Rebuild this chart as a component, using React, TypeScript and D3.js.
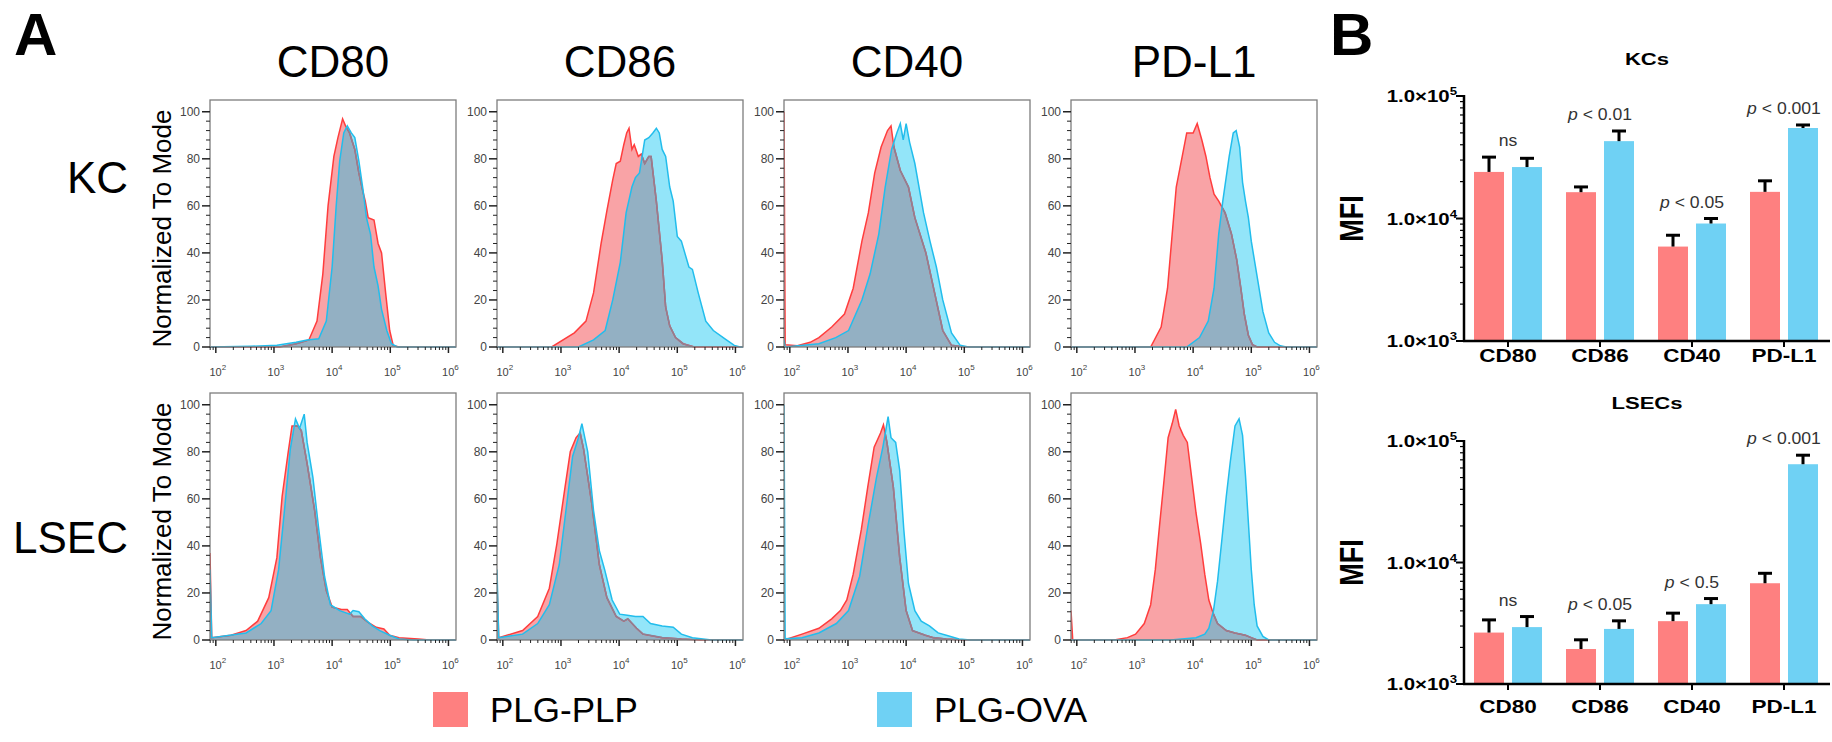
import React from "react"
import * as d3 from "d3"

const FONT = "'Liberation Sans', Arial, Helvetica, sans-serif"
const W = 1832
const H = 742

const MARKERS = ["CD80", "CD86", "CD40", "PD-L1"]
const CELLS = ["KC", "LSEC"]
const GROUPS = ["PLG-PLP", "PLG-OVA"]
const DECADES = [2, 3, 4, 5, 6]
const PCT_TICKS = [0, 20, 40, 60, 80, 100]

// histogram traces, [log10 intensity, % of mode]
const KC_CD80_PLP = [[1.9,0],[3.1,0],[3.38,1.4],[3.6,3],[3.74,11],[3.84,31],[3.93,60],[4.03,81],[4.1,89],[4.18,97],[4.23,94],[4.3,91],[4.39,84],[4.46,74],[4.53,66],[4.57,62],[4.62,55],[4.72,54],[4.79,44],[4.85,40],[4.92,23],[4.99,7],[5.05,0.7],[5.15,0],[6.13,0]]
const KC_CD80_OVA = [[1.9,0],[2.6,0.3],[3.05,0.7],[3.38,2],[3.57,3],[3.77,3.5],[3.9,11],[4.0,34],[4.07,60],[4.13,79],[4.2,91],[4.26,94],[4.33,91],[4.39,89],[4.46,79],[4.53,67],[4.59,55],[4.66,48],[4.72,34],[4.79,26],[4.85,16],[4.94,7],[5.02,1.4],[5.12,0],[6.13,0]]
const KC_CD86_PLP = [[1.9,0],[2.84,0],[3.23,6],[3.43,11],[3.56,23],[3.69,44],[3.79,58],[3.89,71],[3.95,78],[4.02,79],[4.08,86],[4.13,91],[4.17,93],[4.22,84],[4.26,86],[4.33,81],[4.38,82],[4.44,78],[4.51,81],[4.55,81],[4.64,62],[4.74,37],[4.8,17],[4.87,9],[4.97,4],[5.1,1.4],[5.29,0],[6.13,0]]
const KC_CD86_OVA = [[1.9,0],[3.3,0],[3.56,3],[3.76,7],[3.89,20],[4.02,36],[4.12,57],[4.22,68],[4.28,72],[4.35,74],[4.44,88],[4.51,89],[4.58,91],[4.64,93],[4.69,91],[4.74,84],[4.8,81],[4.87,68],[4.93,62],[5.0,47],[5.07,45],[5.2,34],[5.26,33],[5.36,23],[5.49,11],[5.62,7],[5.82,3.5],[5.98,0.7],[6.08,0],[6.13,0]]
const KC_CD40_PLP = [[1.9,100],[1.92,1],[2.13,0.5],[2.35,2],[2.5,4],[2.72,8.5],[2.94,14],[3.09,25],[3.24,45],[3.35,57],[3.46,74],[3.57,85],[3.68,92],[3.74,94],[3.79,85],[3.9,75],[4.04,68],[4.15,55],[4.34,40],[4.49,23],[4.63,7],[4.78,0.7],[5.0,0],[6.13,0]]
const KC_CD40_OVA = [[1.9,3],[1.92,0],[2.5,1.4],[2.79,4],[3.01,7],[3.24,20],[3.38,31],[3.53,48],[3.64,68],[3.75,84],[3.84,91],[3.9,95],[3.95,88],[4.0,95],[4.06,87],[4.15,78],[4.3,57],[4.41,45],[4.52,34],[4.63,20],[4.78,6],[4.93,0.7],[5.07,0],[6.13,0]]
const KC_PDL1_PLP = [[1.9,0],[3.27,0],[3.45,8.5],[3.56,25],[3.64,48],[3.71,68],[3.82,82],[3.89,91],[4.0,91],[4.07,95],[4.15,88],[4.22,81],[4.29,72],[4.36,65],[4.44,62],[4.55,57],[4.66,48],[4.75,37],[4.82,25],[4.88,14],[4.95,5],[5.02,1],[5.1,0],[6.13,0]]
const KC_PDL1_OVA = [[1.9,0],[3.89,0],[4.11,4],[4.26,11],[4.36,25],[4.44,48],[4.51,62],[4.62,81],[4.69,91],[4.74,92],[4.8,85],[4.85,70],[4.9,62],[4.95,55],[5.0,45],[5.1,30],[5.2,15],[5.3,6],[5.4,2],[5.5,0.5],[5.6,0],[6.13,0]]

const LSEC_CD80_PLP = [[1.9,37],[1.93,1],[2.26,2],[2.52,4],[2.72,8],[2.91,18],[3.05,35],[3.14,61],[3.24,79],[3.31,91],[3.41,91],[3.47,89],[3.57,75],[3.7,55],[3.8,35],[3.9,21],[4.0,14],[4.16,13],[4.26,13],[4.36,10],[4.49,10],[4.62,7.5],[4.76,5.4],[4.89,4.7],[4.99,2],[5.15,1],[5.48,0.4],[5.68,0],[6.13,0]]
const LSEC_CD80_OVA = [[1.9,30],[1.93,1],[2.52,3],[2.78,7],[2.95,12.5],[3.08,30],[3.18,55],[3.28,81],[3.37,94],[3.44,90],[3.52,96],[3.57,84],[3.67,69],[3.77,47],[3.87,27],[3.97,15],[4.13,12.5],[4.3,11],[4.36,12.5],[4.46,12],[4.56,9],[4.69,6],[4.82,4],[4.99,2],[5.15,0.4],[5.4,0],[6.13,0]]
const LSEC_CD86_PLP = [[1.9,25],[1.93,1],[2.34,4],[2.6,10],[2.8,22],[2.93,41],[3.07,65],[3.16,80],[3.26,86],[3.33,88],[3.39,81],[3.53,58],[3.66,32],[3.79,18],[3.95,10],[4.08,8],[4.15,9],[4.3,5],[4.41,2.5],[4.74,1],[5.07,0.4],[5.39,0],[6.13,0]]
const LSEC_CD86_OVA = [[1.9,30],[1.93,1],[2.34,2.5],[2.6,7],[2.8,15],[2.97,32],[3.1,58],[3.2,78],[3.3,86],[3.36,92],[3.46,80],[3.56,55],[3.66,38],[3.75,30],[3.88,17],[4.01,11],[4.14,10.5],[4.28,10],[4.41,10],[4.54,7],[4.74,6],[4.93,5.4],[5.07,2.5],[5.26,1],[5.59,0],[6.13,0]]
const LSEC_CD40_PLP = [[1.9,0],[2.21,2.5],[2.5,5],[2.72,9],[2.87,12.5],[2.98,17],[3.09,28],[3.23,47],[3.34,65],[3.45,82],[3.56,88],[3.61,91.5],[3.67,84],[3.78,65],[3.89,35],[4.0,12.5],[4.11,4],[4.33,2],[4.47,1],[4.69,0.4],[5.0,0],[6.13,0]]
const LSEC_CD40_OVA = [[1.9,100],[1.92,0.5],[2.21,1],[2.5,3],[2.8,7],[3.01,12.5],[3.2,27],[3.34,48],[3.49,69],[3.6,82],[3.69,95],[3.74,86],[3.82,84],[3.89,72],[3.96,47],[4.04,24],[4.15,12.5],[4.26,8],[4.4,6],[4.55,3],[4.69,2],[4.91,0.4],[5.1,0],[6.13,0]]
const LSEC_PDL1_PLP = [[1.9,12.5],[1.93,0],[2.64,0],[2.87,1],[3.01,2.5],[3.16,7],[3.27,15],[3.35,30],[3.42,48],[3.5,68],[3.57,86],[3.64,92],[3.7,98],[3.76,91],[3.83,87],[3.9,84],[3.98,68],[4.05,54],[4.13,41],[4.2,28],[4.27,17],[4.35,11],[4.42,7],[4.57,4],[4.72,3],[4.9,2],[5.0,1],[5.1,0],[6.13,0]]
const LSEC_PDL1_OVA = [[1.9,0],[3.61,0],[4.05,1],[4.2,2.5],[4.27,5],[4.35,12.5],[4.42,25],[4.5,44],[4.57,61],[4.64,76],[4.72,91],[4.79,94],[4.85,87],[4.9,70],[4.95,50],[5.0,30],[5.05,15],[5.1,6],[5.2,1.5],[5.3,0],[6.13,0]]

// MFI bars (mean, upper error)
const KC_PLP = [24000, 16400, 5900, 16500]
const KC_OVA = [26300, 42800, 9100, 54800]
const KC_PLP_ERR = [7700, 1700, 1400, 3800]
const KC_OVA_ERR = [4700, 9000, 900, 3200]
const KC_STATS = ["ns", "p < 0.01", "p < 0.05", "p < 0.001"]

const LSEC_PLP = [2650, 1940, 3290, 6750]
const LSEC_OVA = [2940, 2840, 4540, 64400]
const LSEC_PLP_ERR = [720, 370, 540, 1400]
const LSEC_OVA_ERR = [650, 470, 510, 12000]
const LSEC_STATS = ["ns", "p < 0.05", "p < 0.5", "p < 0.001"]

const HISTS = [
  [[KC_CD80_PLP, KC_CD80_OVA], [KC_CD86_PLP, KC_CD86_OVA], [KC_CD40_PLP, KC_CD40_OVA], [KC_PDL1_PLP, KC_PDL1_OVA]],
  [[LSEC_CD80_PLP, LSEC_CD80_OVA], [LSEC_CD86_PLP, LSEC_CD86_OVA], [LSEC_CD40_PLP, LSEC_CD40_OVA], [LSEC_PDL1_PLP, LSEC_PDL1_OVA]],
]

const RED_FILL = "#f9a3a6"
const BLUE_FILL = "#93e5f9"
const OVERLAP = "#93b0c3"
const RED_LINE = "#ff3d3d"
const BLUE_LINE = "#22bdec"
const RED_UNDER = "#8e8094"
const BAR_RED = "#fe8080"
const BAR_BLUE = "#6fd1f4"

// layout
const P_X0 = 210
const P_STEP = 287
const P_W = 246
const P_H = 247
const ROW_BOTTOM = [347, 640]
const X_MIN = 1.9
const X_MAX = 6.13

function Histogram({ row, col }: { row: number; col: number }) {
  const [plp, ova] = HISTS[row][col]
  const L = P_X0 + col * P_STEP
  const bottom = ROW_BOTTOM[row]
  const top = bottom - P_H
  const x = d3.scaleLog().domain([10 ** X_MIN, 10 ** X_MAX]).range([L, L + P_W]).clamp(true)
  const y = d3.scaleLinear().domain([0, 105]).range([bottom, top])
  const area = d3.area<number[]>().x((d) => x(10 ** d[0])).y0(y(0)).y1((d) => y(d[1]))
  const line = d3.line<number[]>().x((d) => x(10 ** d[0])).y((d) => y(d[1]))
  const id = `h${row}${col}`

  const minor: number[] = []
  for (let k = 1; k <= 6; k++) {
    for (let m = 2; m <= 9; m++) {
      const v = m * 10 ** k
      if (v > 10 ** X_MIN && v < 10 ** X_MAX) minor.push(v)
    }
  }
  const yMinor = d3.range(0, 101, 4).filter((v) => v % 20 !== 0)

  return (
    <g>
      <defs>
        <clipPath id={`${id}-panel`}>
          <rect x={L} y={top} width={P_W} height={P_H + 2} />
        </clipPath>
        <clipPath id={`${id}-red`}>
          <path d={area(plp) || ""} />
        </clipPath>
        <clipPath id={`${id}-blue`}>
          <path d={area(ova) || ""} />
        </clipPath>
      </defs>
      <g clipPath={`url(#${id}-panel)`}>
        <path d={area(plp) || ""} fill={RED_FILL} />
        <path d={area(ova) || ""} fill={BLUE_FILL} />
        <path d={area(ova) || ""} fill={OVERLAP} clipPath={`url(#${id}-red)`} />
        <path d={line(plp) || ""} fill="none" stroke={RED_LINE} strokeWidth={1.5} />
        <g clipPath={`url(#${id}-blue)`}>
          <path d={line(plp) || ""} fill="none" stroke={RED_UNDER} strokeWidth={1.6} />
        </g>
        <path d={line(ova) || ""} fill="none" stroke={BLUE_LINE} strokeWidth={1.5} />
      </g>
      <rect x={L} y={top} width={P_W} height={P_H} fill="none" stroke="#7d7d7d" strokeWidth={1.3} />

      {PCT_TICKS.map((v) => (
        <g key={v}>
          <line x1={L - 8} x2={L} y1={y(v)} y2={y(v)} stroke="#222" strokeWidth={1.5} />
          <text x={L - 10} y={y(v) + 4} textAnchor="end" fontSize={12} fill="#444" fontFamily={FONT}>
            {v}
          </text>
        </g>
      ))}
      {yMinor.map((v) => (
        <line key={v} x1={L - 4} x2={L} y1={y(v)} y2={y(v)} stroke="#222" strokeWidth={1} />
      ))}

      {minor.map((v) => (
        <line key={v} x1={x(v)} x2={x(v)} y1={bottom} y2={bottom + 3} stroke="#222" strokeWidth={1} />
      ))}
      {DECADES.map((k) => (
        <g key={k}>
          <line x1={x(10 ** k)} x2={x(10 ** k)} y1={bottom} y2={bottom + 6} stroke="#222" strokeWidth={1.5} />
          <text x={x(10 ** k) + 2} y={bottom + 29} textAnchor="middle" fontSize={11} fill="#444" fontFamily={FONT}>
            10
            <tspan dy={-6} fontSize={8}>
              {k}
            </tspan>
          </text>
        </g>
      ))}
    </g>
  )
}

function BarChart({
  title, plp, ova, plpErr, ovaErr, stats, top, bottom, titleY, labelY,
}: {
  title: string; plp: number[]; ova: number[]; plpErr: number[]; ovaErr: number[]; stats: string[]
  top: number; bottom: number; titleY: number; labelY: number
}) {
  const axisX = 1464
  const x0 = d3.scaleBand().domain(MARKERS).range([1462, 1830])
  const x1 = d3.scaleBand().domain(GROUPS).range([-34, 34]).paddingInner(0.2105)
  const y = d3.scaleLog().domain([1e3, 1e5]).range([bottom, top])
  const SX = 1.22
  const minor: number[] = []
  for (const k of [3, 4]) for (let m = 2; m <= 9; m++) minor.push(m * 10 ** k)

  return (
    <g fontFamily={FONT}>
      <text transform={`translate(1647,${titleY}) scale(1.3,1)`} textAnchor="middle" fontSize={17} fontWeight="bold">
        {title}
      </text>
      <text transform={`translate(1363,${(top + bottom) / 2}) rotate(-90) scale(1,${SX})`} textAnchor="middle" fontSize={27} fontWeight="bold">
        MFI
      </text>

      {MARKERS.map((m, i) => {
        const cx = (x0(m) || 0) + x0.bandwidth() / 2
        const vals = [plp[i], ova[i]]
        const errs = [plpErr[i], ovaErr[i]]
        const capTop = Math.min(...vals.map((v, j) => y(v + errs[j])))
        const parts = stats[i].startsWith("p") ? stats[i].slice(1) : null
        return (
          <g key={m}>
            {GROUPS.map((g, j) => {
              const bx = cx + (x1(g) || 0)
              const bw = x1.bandwidth()
              const yv = y(vals[j])
              const ye = y(vals[j] + errs[j])
              return (
                <g key={g}>
                  <rect x={bx} y={yv} width={bw} height={bottom - yv} fill={j === 0 ? BAR_RED : BAR_BLUE} />
                  <line x1={bx + bw / 2} x2={bx + bw / 2} y1={yv} y2={ye} stroke="#000" strokeWidth={3} />
                  <line x1={bx + bw / 2 - 7} x2={bx + bw / 2 + 7} y1={ye} y2={ye} stroke="#000" strokeWidth={3} />
                </g>
              )
            })}
            <text transform={`translate(${cx},${capTop - 11}) scale(1.1,1)`} textAnchor="middle" fontSize={16} fill="#333">
              {parts === null ? stats[i] : (
                <>
                  <tspan fontStyle="italic">p</tspan>
                  {parts}
                </>
              )}
            </text>
            <line x1={cx} x2={cx} y1={bottom} y2={bottom + 6} stroke="#000" strokeWidth={2} />
            <text transform={`translate(${cx},${labelY}) scale(1.25,1)`} textAnchor="middle" fontSize={18} fontWeight="bold">
              {m}
            </text>
          </g>
        )
      })}

      <line x1={axisX} x2={axisX} y1={top - 1} y2={bottom + 1} stroke="#000" strokeWidth={2.5} />
      <line x1={axisX - 1} x2={1830} y1={bottom} y2={bottom} stroke="#000" strokeWidth={2.5} />
      {minor.map((v) => (
        <line key={v} x1={axisX - 4} x2={axisX} y1={y(v)} y2={y(v)} stroke="#000" strokeWidth={1.2} />
      ))}
      {[3, 4, 5].map((k) => (
        <g key={k}>
          <line x1={axisX - 8} x2={axisX} y1={y(10 ** k)} y2={y(10 ** k)} stroke="#000" strokeWidth={2} />
          <text transform={`translate(1457,${y(10 ** k) + 6}) scale(1.2,1)`} textAnchor="end" fontSize={17} fontWeight="bold">
            1.0×10
            <tspan dy={-7} fontSize={11}>
              {k}
            </tspan>
          </text>
        </g>
      ))}
    </g>
  )
}

export default function App() {
  return (
    <svg width={W} height={H} style={{ position: "absolute", left: 0, top: 0, background: "#fff" }} fontFamily={FONT}>
      <rect width={W} height={H} fill="#fff" />
      <text x={14} y={55} fontSize={60} fontWeight="bold">A</text>
      <text x={1330} y={55} fontSize={60} fontWeight="bold">B</text>

      {MARKERS.map((m, c) => (
        <text key={m} x={P_X0 + c * P_STEP + P_W / 2} y={77} textAnchor="middle" fontSize={44}>
          {m}
        </text>
      ))}
      {CELLS.map((cell, r) => (
        <g key={cell}>
          <text x={128} y={r === 0 ? 193 : 553} textAnchor="end" fontSize={44}>
            {cell}
          </text>
          <text transform={`translate(171,${ROW_BOTTOM[r] - P_H / 2 + 5}) rotate(-90)`} textAnchor="middle" fontSize={26}>
            Normalized To Mode
          </text>
        </g>
      ))}

      {CELLS.map((_, r) => MARKERS.map((_, c) => <Histogram key={`${r}${c}`} row={r} col={c} />))}

      {GROUPS.map((g, i) => (
        <g key={g}>
          <rect x={433 + i * 444} y={692} width={35} height={35} fill={i === 0 ? BAR_RED : BAR_BLUE} />
          <text x={490 + i * 444} y={722} fontSize={35}>
            {g}
          </text>
        </g>
      ))}

      <BarChart title="KCs" plp={KC_PLP} ova={KC_OVA} plpErr={KC_PLP_ERR} ovaErr={KC_OVA_ERR} stats={KC_STATS} top={96} bottom={341} titleY={65} labelY={362} />
      <BarChart title="LSECs" plp={LSEC_PLP} ova={LSEC_OVA} plpErr={LSEC_PLP_ERR} ovaErr={LSEC_OVA_ERR} stats={LSEC_STATS} top={441} bottom={684} titleY={409} labelY={713} />
    </svg>
  )
}
